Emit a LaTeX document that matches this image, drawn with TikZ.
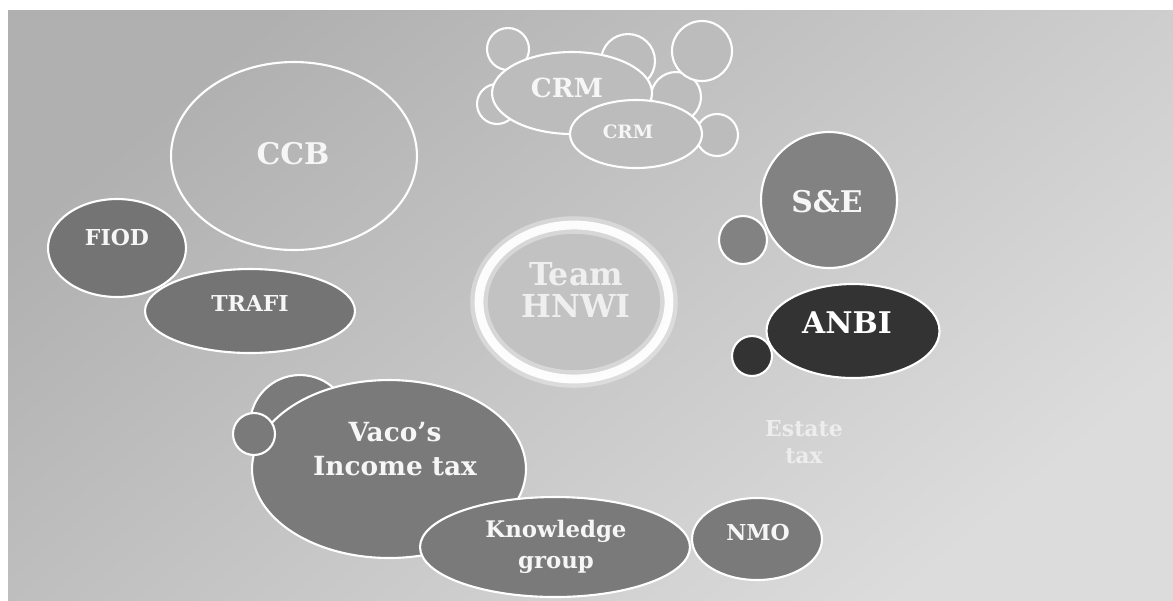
\documentclass[tikz,border=0pt]{standalone}
\usepackage{fontspec}
\setmainfont{DejaVu Serif}
\usetikzlibrary{shapes.geometric}
\definecolor{bgdark}{HTML}{B0B0B0}
\definecolor{bglight}{HTML}{DCDCDC}
\definecolor{bgmid}{HTML}{BCBCBC}
\definecolor{midgrey}{HTML}{7A7A7A}
\definecolor{segrey}{HTML}{828282}
\definecolor{darkfill}{HTML}{333333}
\definecolor{ringin}{HTML}{C2C2C2}
\definecolor{labwhite}{HTML}{F6F6F6}
\definecolor{estate}{HTML}{EDEDED}
\begin{document}
\begin{tikzpicture}[x=0.02cm,y=-0.02cm,
  blob/.style={ellipse, draw=white, line width=1.2pt, inner sep=0pt, fill=#1},
  blob/.default=midgrey,
  lab/.style 2 args={text=labwhite, align=center, inner sep=0pt, font=\bfseries\fontsize{#1}{#2}\selectfont}]
\useasboundingbox (0,0) rectangle (1173,600);
\fill[white] (0,0) rectangle (1173,600);
\shade[top color=bgdark, bottom color=bglight, shading angle=40] (8,10) rectangle (1173,600);

% CRM cluster
\node[blob=bgmid, minimum width=0.84cm, minimum height=0.84cm] (c1) at (508,49) {};
\node[blob=bgmid, minimum width=0.8cm, minimum height=0.8cm] (c2) at (497,104) {};
\node[blob=bgmid, minimum width=1.08cm, minimum height=1.08cm] (c3) at (628,61) {};
\node[blob=bgmid, minimum width=1.0cm, minimum height=1.0cm] (c5) at (676,97) {};
\node[blob=bgmid, minimum width=0.84cm, minimum height=0.84cm] (c6) at (717,135) {};
\node[blob=bgmid, minimum width=1.2cm, minimum height=1.2cm] (c4) at (702,51) {};
\node[blob=bgmid, minimum width=3.2cm, minimum height=1.64cm] (crm) at (572,93) {};
\node[blob=bgmid, minimum width=2.64cm, minimum height=1.36cm] (crm2) at (636,134) {};
\node[lab={15}{18}] (crmt) at (567,88) {CRM};
\node[lab={10.5}{13}] (crm2t) at (628,132) {CRM};

% CCB, FIOD, TRAFI
\node[ellipse, draw=white, line width=1.2pt, minimum width=4.92cm, minimum height=3.76cm] (ccb) at (294,156) {};
\node[lab={17}{20}] (ccbt) at (293,154) {CCB};
\node[blob=midgrey!95!black, minimum width=2.76cm, minimum height=1.96cm] (fiod) at (117,248) {};
\node[lab={12.5}{15}] (fiodt) at (117,237) {FIOD};
\node[blob=midgrey!95!black, minimum width=4.2cm, minimum height=1.68cm] (trafi) at (250,311) {};
\node[lab={12.5}{15}] (trafit) at (250,303) {TRAFI};

% Team HNWI
\node[ellipse, fill=ringin, draw=white, draw opacity=0.35, line width=10pt, minimum width=3.8cm, minimum height=3.08cm] (teamglow) at (574,302) {};
\node[ellipse, draw=white, draw opacity=0.95, line width=5pt, minimum width=3.8cm, minimum height=3.08cm] (team) at (574,302) {};
\node[lab={18}{18}, text=white, text opacity=0.75] (teamt) at (576,290) {Team\\HNWI};

% S&E and ANBI
\node[blob=segrey, minimum width=0.96cm, minimum height=0.96cm] (ses) at (743,240) {};
\node[blob=segrey, minimum width=2.72cm, minimum height=2.72cm] (se) at (829,200) {};
\node[lab={17}{20}] (set) at (827,202) {S\&E};
\node[blob=darkfill, minimum width=0.8cm, minimum height=0.8cm] (anbis) at (752,356) {};
\node[blob=darkfill, minimum width=3.46cm, minimum height=1.88cm] (anbi) at (853,331) {};
\node[lab={17}{20}, text=white] (anbit) at (847,323) {ANBI};
\node[lab={12.5}{15}, text=estate] (estate) at (804,442) {Estate\\tax};

% Vaco's cluster
\node[blob, minimum width=2.0cm, minimum height=2.0cm] (vbump) at (300,425) {};
\node[blob, minimum width=5.48cm, minimum height=3.56cm] (vaco) at (389,469) {};
\node[blob, minimum width=0.84cm, minimum height=0.84cm] (vsmall) at (254,434) {};
\node[lab={15}{19.3}] (vacot) at (395,449) {Vaco’s\\Income tax};
\node[blob, minimum width=5.4cm, minimum height=2.0cm] (know) at (555,547) {};
\node[lab={13}{17.6}] (knowt) at (556,547) {Knowledge\\group};
\node[blob, minimum width=2.6cm, minimum height=1.64cm] (nmo) at (757,539) {};
\node[lab={12.5}{15}] (nmot) at (758,532) {NMO};
\end{tikzpicture}
\end{document}
